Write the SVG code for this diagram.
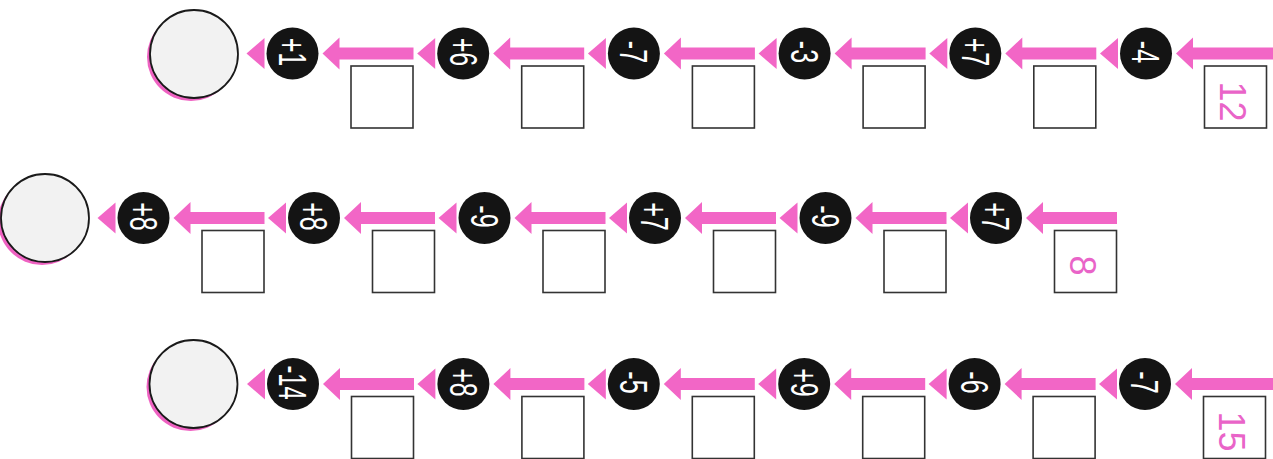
<svg xmlns="http://www.w3.org/2000/svg" width="1273" height="459" viewBox="0 0 1273 459">
<style>
.pk{fill:#f266c6}
.bc{fill:#141414}
.big{fill:#f2f2f2;stroke:#1a1a1a;stroke-width:1.8}
.bigsh{fill:#ef62c2}
.sq{fill:#fff;stroke:#333;stroke-width:1.6}
.op{font-family:"Liberation Sans",Arial,sans-serif;font-size:38px;fill:#fff;text-anchor:middle}
.num{font-family:"Liberation Sans",Arial,sans-serif;font-size:36px;fill:#e964c8;text-anchor:middle}
</style>
<rect width="1273" height="459" fill="#fff"/>
<g id="connectors">
<polygon class="pk" points="246.5,53.5 264.5,38 264.5,69"/>
<polygon class="pk" points="322.5,53.5 339.5,37.5 339.5,47.5 413.5,47.5 413.5,59.5 339.5,59.5 339.5,69.5"/>
<polygon class="pk" points="417.2,53.5 435.2,38 435.2,69"/>
<polygon class="pk" points="493.2,53.5 510.2,37.5 510.2,47.5 584.2,47.5 584.2,59.5 510.2,59.5 510.2,69.5"/>
<polygon class="pk" points="587.9,53.5 605.9,38 605.9,69"/>
<polygon class="pk" points="663.9,53.5 680.9,37.5 680.9,47.5 754.9,47.5 754.9,59.5 680.9,59.5 680.9,69.5"/>
<polygon class="pk" points="758.6,53.5 776.6,38 776.6,69"/>
<polygon class="pk" points="834.6,53.5 851.6,37.5 851.6,47.5 925.6,47.5 925.6,59.5 851.6,59.5 851.6,69.5"/>
<polygon class="pk" points="929.3,53.5 947.3,38 947.3,69"/>
<polygon class="pk" points="1005.3,53.5 1022.3,37.5 1022.3,47.5 1096.3,47.5 1096.3,59.5 1022.3,59.5 1022.3,69.5"/>
<polygon class="pk" points="1100,53.5 1118,38 1118,69"/>
<polygon class="pk" points="1176,53.5 1193,37.5 1193,47.5 1273,47.5 1273,59.5 1193,59.5 1193,69.5"/>
<polygon class="pk" points="97.5,218 115.5,202.5 115.5,233.5"/>
<polygon class="pk" points="173.5,218 190.5,202 190.5,212 264.5,212 264.5,224 190.5,224 190.5,234"/>
<polygon class="pk" points="268,218 286,202.5 286,233.5"/>
<polygon class="pk" points="344,218 361,202 361,212 435,212 435,224 361,224 361,234"/>
<polygon class="pk" points="438.5,218 456.5,202.5 456.5,233.5"/>
<polygon class="pk" points="514.5,218 531.5,202 531.5,212 605.5,212 605.5,224 531.5,224 531.5,234"/>
<polygon class="pk" points="609,218 627,202.5 627,233.5"/>
<polygon class="pk" points="685,218 702,202 702,212 776,212 776,224 702,224 702,234"/>
<polygon class="pk" points="779.5,218 797.5,202.5 797.5,233.5"/>
<polygon class="pk" points="855.5,218 872.5,202 872.5,212 946.5,212 946.5,224 872.5,224 872.5,234"/>
<polygon class="pk" points="950,218 968,202.5 968,233.5"/>
<polygon class="pk" points="1026,218 1043,202 1043,212 1117,212 1117,224 1043,224 1043,234"/>
<polygon class="pk" points="247,384 265,368.5 265,399.5"/>
<polygon class="pk" points="323,384 340,368 340,378 414,378 414,390 340,390 340,400"/>
<polygon class="pk" points="417.4,384 435.4,368.5 435.4,399.5"/>
<polygon class="pk" points="493.4,384 510.4,368 510.4,378 584.4,378 584.4,390 510.4,390 510.4,400"/>
<polygon class="pk" points="587.8,384 605.8,368.5 605.8,399.5"/>
<polygon class="pk" points="663.8,384 680.8,368 680.8,378 754.8,378 754.8,390 680.8,390 680.8,400"/>
<polygon class="pk" points="758.2,384 776.2,368.5 776.2,399.5"/>
<polygon class="pk" points="834.2,384 851.2,368 851.2,378 925.2,378 925.2,390 851.2,390 851.2,400"/>
<polygon class="pk" points="928.6,384 946.6,368.5 946.6,399.5"/>
<polygon class="pk" points="1004.6,384 1021.6,368 1021.6,378 1095.6,378 1095.6,390 1021.6,390 1021.6,400"/>
<polygon class="pk" points="1099,384 1117,368.5 1117,399.5"/>
<polygon class="pk" points="1175,384 1192,368 1192,378 1273,378 1273,390 1192,390 1192,400"/>
</g>
<g id="result1"><circle class="bigsh" cx="191" cy="57" r="44"/><circle class="big" cx="194" cy="54" r="44"/></g>
<g id="result2"><circle class="bigsh" cx="42" cy="221" r="44"/><circle class="big" cx="45" cy="218" r="44"/></g>
<g id="result3"><circle class="bigsh" cx="190.5" cy="387" r="44"/><circle class="big" cx="193.5" cy="384" r="44"/></g>
<g id="op1a"><circle class="bc" cx="292.5" cy="53.5" r="26"/><text class="op" transform="translate(292.5,52) rotate(90) scale(0.66,1)" y="13.5">+1</text></g>
<g id="op1b"><circle class="bc" cx="463.2" cy="53.5" r="26"/><text class="op" transform="translate(463.2,52) rotate(90) scale(0.66,1)" y="13.5">+6</text></g>
<g id="op1c"><circle class="bc" cx="633.9" cy="53.5" r="26"/><text class="op" transform="translate(633.9,52) rotate(90) scale(0.66,1)" y="13.5">-7</text></g>
<g id="op1d"><circle class="bc" cx="804.6" cy="53.5" r="26"/><text class="op" transform="translate(804.6,52) rotate(90) scale(0.66,1)" y="13.5">-3</text></g>
<g id="op1e"><circle class="bc" cx="975.3" cy="53.5" r="26"/><text class="op" transform="translate(975.3,52) rotate(90) scale(0.66,1)" y="13.5">+7</text></g>
<g id="op1f"><circle class="bc" cx="1146" cy="53.5" r="26"/><text class="op" transform="translate(1146,52) rotate(90) scale(0.66,1)" y="13.5">-4</text></g>
<g id="box1a"><rect class="sq" x="351" y="66" width="62" height="62"/></g>
<g id="box1b"><rect class="sq" x="521.7" y="66" width="62" height="62"/></g>
<g id="box1c"><rect class="sq" x="692.4" y="66" width="62" height="62"/></g>
<g id="box1d"><rect class="sq" x="863.1" y="66" width="62" height="62"/></g>
<g id="box1e"><rect class="sq" x="1033.8" y="66" width="62" height="62"/></g>
<g id="box1f"><rect class="sq" x="1204.5" y="66" width="62" height="62"/><text class="num" transform="translate(1232.5,101.5) rotate(90)" y="13">12</text></g>
<g id="op2a"><circle class="bc" cx="143.5" cy="218" r="26"/><text class="op" transform="translate(143.5,216.5) rotate(90) scale(0.66,1)" y="13.5">+8</text></g>
<g id="op2b"><circle class="bc" cx="314" cy="218" r="26"/><text class="op" transform="translate(314,216.5) rotate(90) scale(0.66,1)" y="13.5">+8</text></g>
<g id="op2c"><circle class="bc" cx="484.5" cy="218" r="26"/><text class="op" transform="translate(484.5,216.5) rotate(90) scale(0.66,1)" y="13.5">-9</text></g>
<g id="op2d"><circle class="bc" cx="655" cy="218" r="26"/><text class="op" transform="translate(655,216.5) rotate(90) scale(0.66,1)" y="13.5">+7</text></g>
<g id="op2e"><circle class="bc" cx="825.5" cy="218" r="26"/><text class="op" transform="translate(825.5,216.5) rotate(90) scale(0.66,1)" y="13.5">-9</text></g>
<g id="op2f"><circle class="bc" cx="996" cy="218" r="26"/><text class="op" transform="translate(996,216.5) rotate(90) scale(0.66,1)" y="13.5">+7</text></g>
<g id="box2a"><rect class="sq" x="202" y="230.5" width="62" height="62"/></g>
<g id="box2b"><rect class="sq" x="372.5" y="230.5" width="62" height="62"/></g>
<g id="box2c"><rect class="sq" x="543" y="230.5" width="62" height="62"/></g>
<g id="box2d"><rect class="sq" x="713.5" y="230.5" width="62" height="62"/></g>
<g id="box2e"><rect class="sq" x="884" y="230.5" width="62" height="62"/></g>
<g id="box2f"><rect class="sq" x="1054.5" y="230.5" width="62" height="62"/><text class="num" transform="translate(1083,265.5) rotate(90)" y="13">8</text></g>
<g id="op3a"><circle class="bc" cx="293" cy="384" r="26"/><text class="op" transform="translate(293,382.5) rotate(90) scale(0.62,1)" y="13.5">-14</text></g>
<g id="op3b"><circle class="bc" cx="463.4" cy="384" r="26"/><text class="op" transform="translate(463.4,382.5) rotate(90) scale(0.66,1)" y="13.5">+8</text></g>
<g id="op3c"><circle class="bc" cx="633.8" cy="384" r="26"/><text class="op" transform="translate(633.8,382.5) rotate(90) scale(0.66,1)" y="13.5">-5</text></g>
<g id="op3d"><circle class="bc" cx="804.2" cy="384" r="26"/><text class="op" transform="translate(804.2,382.5) rotate(90) scale(0.66,1)" y="13.5">+9</text></g>
<g id="op3e"><circle class="bc" cx="974.6" cy="384" r="26"/><text class="op" transform="translate(974.6,382.5) rotate(90) scale(0.66,1)" y="13.5">-6</text></g>
<g id="op3f"><circle class="bc" cx="1145" cy="384" r="26"/><text class="op" transform="translate(1145,382.5) rotate(90) scale(0.66,1)" y="13.5">-7</text></g>
<g id="box3a"><rect class="sq" x="351.5" y="396.5" width="62" height="62"/></g>
<g id="box3b"><rect class="sq" x="521.9" y="396.5" width="62" height="62"/></g>
<g id="box3c"><rect class="sq" x="692.3" y="396.5" width="62" height="62"/></g>
<g id="box3d"><rect class="sq" x="862.7" y="396.5" width="62" height="62"/></g>
<g id="box3e"><rect class="sq" x="1033.1" y="396.5" width="62" height="62"/></g>
<g id="box3f"><rect class="sq" x="1203.5" y="396.5" width="62" height="62"/><text class="num" transform="translate(1231.5,431.5) rotate(90)" y="13">15</text></g>
</svg>
